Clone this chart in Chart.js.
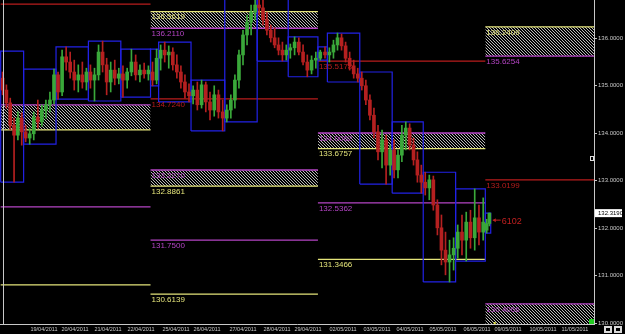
<!DOCTYPE html>
<html><head><meta charset="utf-8">
<script src="https://cdn.jsdelivr.net/npm/chart.js@4"></script>
<style>html,body{margin:0;padding:0;background:#000;overflow:hidden;}</style>
</head><body>
<canvas id="c" width="625" height="334"></canvas>
<script>
// ---------- DATA ----------
const dayNames  = ['18/04','19/04','20/04','21/04','22/04','24/04','25/04','26/04','27/04','28/04','29/04','01/05','02/05','03/05','04/05','05/05','06/05','09/05'];
const dayStart  = [0, 17, 41, 65, 89, 111, 117, 141, 166, 190, 213, 235, 242, 266, 290, 313, 337, 359];
const dayEnd    = [17, 41, 65, 89, 111, 117, 141, 166, 190, 213, 235, 242, 266, 290, 313, 337, 359, 363];
const dayHigh   = [135.73,135.35,135.82,135.94,135.77,135.77,135.92,135.12,136.90,136.88,136.03,135.82,136.11,135.29,134.24,133.18,132.83,132.32];
const dayLow    = [132.97,133.77,134.72,134.68,134.76,135.00,134.66,134.05,134.24,135.52,135.19,135.54,135.08,132.93,132.74,130.87,131.31,131.90];

// candles per day: [open, high, low, close]
const apr18 = [[135.16,135.29,134.81,134.91],[134.91,135.02,134.53,134.64],[134.64,134.74,134.07,134.17],[134.17,134.32,132.97,133.96],[133.96,134.45,133.86,134.32],[134.32,134.43,133.75,134.03]];
const apr19 = [[134.03,134.17,133.82,133.90],[133.90,134.11,133.77,133.99],[133.99,134.45,133.86,134.34],[134.34,134.70,134.11,134.24],[134.24,134.60,134.15,134.49],[134.49,134.70,134.32,134.60],[134.60,134.87,134.45,134.70],[134.70,135.35,134.62,135.23]];
const apr20 = [[135.23,135.29,134.72,134.87],[134.87,135.75,134.79,135.61],[135.61,135.82,135.33,135.50],[135.50,135.71,135.16,135.29],[135.29,135.54,134.91,135.12],[135.12,135.44,134.87,135.23],[135.23,135.50,134.95,135.08],[135.08,135.37,134.91,135.29]];
const apr21 = [[135.29,135.44,134.95,135.12],[135.12,135.37,134.68,135.23],[135.23,135.86,135.12,135.71],[135.71,135.94,135.29,135.44],[135.44,135.58,134.81,135.08],[135.08,135.50,134.87,135.33],[135.33,135.54,135.02,135.16],[135.16,135.37,135.04,135.25]];
const apr22 = [[135.25,135.42,134.76,135.12],[135.12,135.37,134.95,135.29],[135.29,135.77,135.21,135.50],[135.50,135.65,135.12,135.23],[135.23,135.44,135.08,135.33],[135.33,135.48,135.16,135.25],[135.25,135.42,135.12,135.33]];
const apr24 = [[135.29,135.50,135.00,135.12],[135.12,135.77,135.04,135.58]];
const apr25 = [[135.58,135.86,135.33,135.75],[135.75,135.92,135.50,135.65],[135.65,135.84,135.37,135.71],[135.71,135.80,135.33,135.44],[135.44,135.65,135.16,135.29],[135.29,135.42,134.95,135.08],[135.08,135.23,134.74,134.87],[134.87,135.04,134.66,134.79]];
const apr26 = [[134.79,135.00,134.62,134.91],[134.91,135.08,134.49,134.60],[134.60,135.12,134.53,135.02],[135.02,135.08,134.45,134.66],[134.66,134.87,134.28,134.49],[134.49,135.00,134.36,134.81],[134.81,134.91,134.32,134.45],[134.45,134.70,134.05,134.32]];
const apr27 = [[134.32,134.60,134.24,134.49],[134.49,134.81,134.32,134.70],[134.70,135.23,134.53,135.12],[135.12,135.75,134.95,135.65],[135.65,136.17,135.44,136.07],[136.07,136.49,135.86,136.34],[136.34,136.70,136.07,136.55],[136.55,136.87,136.39,136.70]];
const apr28 = [[136.70,136.85,136.49,136.64],[136.64,136.81,136.28,136.39],[136.39,136.55,136.07,136.17],[136.17,136.28,135.92,136.01],[136.01,136.22,135.80,135.86],[135.86,136.01,135.65,135.75],[135.75,135.92,135.52,135.65],[135.65,135.86,135.54,135.75]];
const apr29 = [[135.75,135.88,135.58,135.80],[135.80,136.03,135.65,135.92],[135.92,136.01,135.65,135.71],[135.71,135.86,135.44,135.50],[135.50,135.65,135.19,135.33],[135.33,135.63,135.25,135.54],[135.54,135.71,135.37,135.58]];
const may01 = [[135.58,135.75,135.54,135.71],[135.71,135.82,135.58,135.65]];
const may02 = [[135.65,135.80,135.50,135.71],[135.71,135.96,135.58,135.86],[135.86,136.11,135.75,136.01],[136.01,136.09,135.75,135.84],[135.84,135.92,135.50,135.58],[135.58,135.71,135.33,135.42],[135.42,135.54,135.16,135.25],[135.25,135.37,135.08,135.16]];
const may03 = [[135.16,135.29,134.91,135.00],[135.00,135.12,134.60,134.70],[134.70,134.81,134.28,134.38],[134.38,134.53,133.90,134.03],[134.03,134.17,133.44,133.61],[133.61,134.07,133.27,133.86],[133.86,133.96,132.93,133.33],[133.33,133.75,133.12,133.65]];
const may04 = [[133.65,133.86,133.06,133.23],[133.23,133.65,133.06,133.54],[133.54,134.17,133.40,133.96],[133.96,134.24,133.65,134.11],[134.11,134.20,133.65,133.75],[133.75,133.90,133.33,133.44],[133.44,133.61,132.97,133.12],[133.12,133.33,132.74,132.97]];
const may05 = [[132.97,133.18,132.70,132.85],[132.85,133.12,132.60,133.02],[133.02,133.10,132.38,132.49],[132.49,132.60,131.86,132.01],[132.01,132.28,131.23,131.54],[131.54,131.92,131.02,131.29],[131.29,131.75,130.87,131.44],[131.44,131.80,131.12,131.58]];
const may06 = [[131.58,132.07,131.37,131.92],[131.92,132.28,131.44,131.75],[131.75,132.34,131.31,132.13],[132.13,132.38,131.58,131.80],[131.80,132.83,131.54,132.22],[132.22,132.49,131.65,131.92],[131.92,132.64,131.75,132.13]];
const may09 = [[131.96,132.19,131.90,132.10],[132.10,132.32,132.05,132.32]];

const currentPrice = 132.3190;
const timerText = '6102';

// Weekly levels
const weekStart = [0, 111, 235, 359];
const weekEnd   = [111, 235, 359, 440];
const levelWeek  = [0,0,0,0,0, 1,1,1,1,1,1,1, 2,2,2,2,2, 3,3,3,3];
const levelValue = [136.72,134.60,134.07,132.45,130.81, 136.5619,136.2110,134.7240,133.2270,132.8861,131.7500,130.6139, 135.5178,134.0062,133.6757,132.5362,131.3466, 136.2409,135.6254,133.0199,130.4066];
const levelKind  = ['P','M','Y','M','Y', 'Y','M','P','M','Y','M','Y', 'P','M','Y','M','Y', 'Y','M','P','M'];
// hatched zones
const zoneWeek = [0, 1, 1, 2, 3, 3];
const zoneHi   = [134.60, 136.5619, 133.2270, 134.0062, 136.2409, 130.4066];
const zoneLo   = [134.07, 136.2110, 132.8861, 133.6757, 135.6254, 129.70];

// Axis ticks
const yTicks = [130,131,132,133,134,135,136];
const dateLabels = ['19/04/2011','20/04/2011','21/04/2011','22/04/2011','25/04/2011','26/04/2011','27/04/2011','28/04/2011','29/04/2011','02/05/2011','03/05/2011','04/05/2011','05/05/2011','06/05/2011','09/05/2011','10/05/2011','11/05/2011'];
const datePos    = [32.1,55.1,79.5,103.9,129.9,152.8,179.5,204.7,227.6,253.6,278.8,303.2,327.6,352.8,375.8,401.7,425.4];

// ---------- BUILD ----------
const dayCandles = [apr18,apr19,apr20,apr21,apr22,apr24,apr25,apr26,apr27,apr28,apr29,may01,may02,may03,may04,may05,may06,may09];
const UP='#3aa83a', DOWN='#b52020', BLUE='#2222e6';
const KIND_COLOR = {P:'#b81c1c', M:'#b444c4', Y:'#e4e47a'};
const NARROW = '"Liberation Sans Narrow","Liberation Sans",sans-serif';

function hatch(){
  const c=document.createElement('canvas'); c.width=3; c.height=3;
  const g=c.getContext('2d'); g.fillStyle='#b8b8b8';
  for(let i=0;i<3;i++) g.fillRect(i,i,1,1);
  return g.createPattern(c,'repeat');
}
const PATTERN = hatch();

const datasets=[];
zoneHi.forEach((hi,i)=>{
  const s=weekStart[zoneWeek[i]], e=weekEnd[zoneWeek[i]];
  datasets.push({type:'line',data:[{x:s,y:hi},{x:e,y:hi}],borderWidth:0,pointRadius:0,fill:'+1',backgroundColor:PATTERN,order:4});
  datasets.push({type:'line',data:[{x:s,y:zoneLo[i]},{x:e,y:zoneLo[i]}],borderWidth:0,pointRadius:0,fill:false,order:4});
});
levelValue.forEach((v,i)=>{
  const s=weekStart[levelWeek[i]], e=weekEnd[levelWeek[i]];
  datasets.push({type:'line',data:[{x:s,y:v},{x:e,y:v}],borderColor:KIND_COLOR[levelKind[i]],borderWidth:1.3,pointRadius:0,fill:false,order:3});
});
dayHigh.forEach((h,d)=>{
  const s=dayStart[d], e=dayEnd[d], l=dayLow[d];
  datasets.push({type:'line',data:[{x:s,y:l},{x:s,y:h},{x:e,y:h},{x:e,y:l},{x:s,y:l}],borderColor:BLUE,borderWidth:1.2,pointRadius:0,fill:false,tension:0,order:2});
});
const wickData=[], bodyData=[], cColors=[];
dayCandles.forEach((arr,d)=>{
  const step=(dayEnd[d]-dayStart[d])/arr.length;
  arr.forEach((c,k)=>{
    const x=dayStart[d]+(k+0.5)*step;
    wickData.push({x:x,y:[c[2],c[1]]});
    bodyData.push({x:x,y:[c[0],c[3]]});
    cColors.push(c[3]>=c[0]?UP:DOWN);
  });
});
datasets.push({type:'bar',data:wickData,backgroundColor:cColors,barThickness:1,grouped:false,order:1,borderWidth:0});
datasets.push({type:'bar',data:bodyData,backgroundColor:cColors,barThickness:3,grouped:false,order:0,borderWidth:0,minBarLength:1});

const decor={
  id:'decor',
  beforeDraw(chart){const ctx=chart.ctx;ctx.save();ctx.fillStyle='#000';ctx.fillRect(0,0,chart.width,chart.height);ctx.restore();},
  afterDatasetsDraw(chart){
    const ctx=chart.ctx, xs=chart.scales.x, ys=chart.scales.y;
    ctx.save();
    ctx.font='8px "Liberation Sans",sans-serif'; ctx.textBaseline='top'; ctx.textAlign='left';
    levelValue.forEach((v,i)=>{
      const s=weekStart[levelWeek[i]]; if(s<=0) return;
      ctx.fillStyle=KIND_COLOR[levelKind[i]];
      ctx.fillText(v.toFixed(4), xs.getPixelForValue(s)+1, ys.getPixelForValue(v)+1.5);
    });
    ctx.restore();
  },
  afterDraw(chart){
    const ctx=chart.ctx, xs=chart.scales.x, ys=chart.scales.y, a=chart.chartArea;
    ctx.save();
    ctx.strokeStyle='#c8c8c8'; ctx.lineWidth=1;
    ctx.beginPath(); ctx.moveTo(3.5,a.top); ctx.lineTo(3.5,a.bottom); ctx.stroke();
    const lastX=xs.getPixelForValue(dayEnd[dayEnd.length-1]);
    const ty=ys.getPixelForValue(currentPrice)+7;
    ctx.strokeStyle='#c02020'; ctx.fillStyle='#c02020';
    ctx.beginPath(); ctx.moveTo(lastX+2,ty); ctx.lineTo(lastX+10,ty); ctx.stroke();
    ctx.beginPath(); ctx.moveTo(lastX+2,ty); ctx.lineTo(lastX+5,ty-2); ctx.lineTo(lastX+5,ty+2); ctx.closePath(); ctx.fill();
    ctx.font='9px "Liberation Sans",sans-serif'; ctx.textBaseline='middle'; ctx.textAlign='left';
    ctx.fillText(timerText,lastX+11,ty+1);
    const py=ys.getPixelForValue(currentPrice);
    ctx.fillStyle='#ffffff'; ctx.fillRect(a.right+1,py-4,27,8);
    ctx.fillStyle='#000'; ctx.font='6px '+NARROW; ctx.textBaseline='middle';
    ctx.fillText(currentPrice.toFixed(4),a.right+4,py);
    ctx.fillStyle='#22cc22'; ctx.fillRect(a.right-5,a.bottom-5,5,5);
    ctx.fillStyle='#e0e040'; ctx.fillRect(lastX+3,a.bottom-2,2,2);
    ctx.strokeStyle='#dddddd'; ctx.strokeRect(a.right-3.5,156.5,3,4);
    ctx.fillStyle='#d8d8d8'; ctx.fillRect(604,326,8,7); ctx.fillRect(614,326,8,7);
    ctx.fillStyle='#000'; ctx.fillRect(606,328,4,3); ctx.fillRect(616,328,4,3);
    ctx.restore();
  }
};

new Chart(document.getElementById('c'),{
  type:'line',
  data:{datasets:datasets},
  plugins:[decor],
  options:{
    responsive:false, animation:false, devicePixelRatio:1,
    layout:{padding:0, autoPadding:false},
    plugins:{legend:{display:false}, tooltip:{enabled:false}},
    scales:{
      x:{type:'linear', min:-0.5, max:439.5, offset:false, position:'bottom',
        grid:{display:false, drawTicks:false, tickLength:0}, border:{display:true,color:'#c8c8c8'},
        ticks:{autoSkip:false, maxRotation:0, minRotation:0, color:'#c8c8c8', padding:2,
          font:{family:NARROW,size:5.5},
          callback:(v)=>{const i=datePos.indexOf(v);return i>=0?dateLabels[i]:'';}},
        afterBuildTicks:(s)=>{s.ticks=datePos.map(v=>({value:v}));},
        afterFit:(s)=>{s.height=10;s.paddingLeft=0;s.paddingRight=0;}
      },
      y:{type:'linear', position:'right', min:129.985, max:136.806,
        grid:{drawOnChartArea:false, drawTicks:true, tickLength:3, color:'#c8c8c8'},
        border:{display:true,color:'#c8c8c8'},
        ticks:{color:'#c8c8c8', padding:1, font:{family:NARROW,size:6}, callback:(v)=>Number(v).toFixed(4)},
        afterBuildTicks:(s)=>{s.ticks=yTicks.map(v=>({value:v}));},
        afterFit:(s)=>{s.width=31;s.paddingTop=0;s.paddingBottom=0;}
      }
    }
  }
});
</script>
</body></html>
